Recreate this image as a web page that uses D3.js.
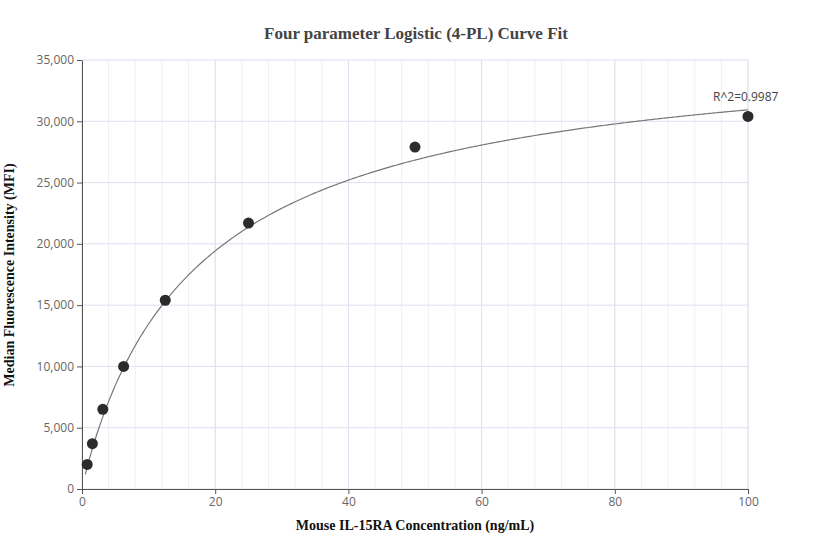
<!DOCTYPE html><html><head><meta charset="utf-8"><script src="https://cdn.jsdelivr.net/npm/d3@7"></script>
<style>body{margin:0;background:#fff}</style></head><body><svg id="c" width="832" height="560"></svg>
<script>
const concentrations=[0.78,1.56,3.125,6.25,12.5,25,50,100];
const mfi=[2000,3700,6500,10000,15400,21700,27900,30400];
const fitParams={A:0,B:0.95,C:18,D:37000};
const xTicks=[0,20,40,60,80,100];
const yTicks=[0,5000,10000,15000,20000,25000,30000,35000];
const rSquared="R^2=0.9987";

const svg=d3.select("#c");
const m={l:82,r:748,t:60,b:489};
const x=d3.scaleLinear().domain([0,100]).range([m.l,m.r]);
const y=d3.scaleLinear().domain([0,35000]).range([m.b,m.t]);
const g=svg.append("g");
g.selectAll(".mv").data(d3.range(0,101,4)).enter().append("line")
 .attr("x1",d=>x(d)).attr("x2",d=>x(d)).attr("y1",m.t).attr("y2",m.b).attr("stroke","#eef0f7");
g.selectAll(".mj").data(xTicks).enter().append("line")
 .attr("x1",d=>x(d)).attr("x2",d=>x(d)).attr("y1",m.t).attr("y2",m.b).attr("stroke","#dde0ee");
g.selectAll(".hy").data(yTicks).enter().append("line")
 .attr("x1",m.l).attr("x2",m.r).attr("y1",d=>y(d)).attr("y2",d=>y(d)).attr("stroke","#dde0ee");
const ax=svg.append("g").attr("transform",`translate(0,${m.b})`).call(d3.axisBottom(x).tickValues(xTicks).tickSize(5).tickSizeOuter(0));
const ay=svg.append("g").attr("transform",`translate(${m.l},0)`).call(d3.axisLeft(y).tickValues(yTicks).tickFormat(d3.format(",")).tickSize(5).tickSizeOuter(0));
[ax,ay].forEach(a=>{a.selectAll("path,line").attr("stroke","#555");a.selectAll("text").attr("fill","#666").style("font","12px 'Open Sans',sans-serif");});
const f=t=>fitParams.A+(fitParams.D-fitParams.A)*Math.pow(t/fitParams.C,fitParams.B)/(1+Math.pow(t/fitParams.C,fitParams.B));
const pts=d3.range(0.5,100.01,0.25).map(t=>[t,f(t)]);
svg.append("path").attr("d",d3.line().x(d=>x(d[0])).y(d=>y(d[1]))(pts)).attr("fill","none").attr("stroke","#777").attr("stroke-width",1.2);
svg.selectAll("circle").data(concentrations).enter().append("circle")
 .attr("cx",d=>x(d)).attr("cy",(d,i)=>y(mfi[i])).attr("r",5.5).attr("fill","#2b2b2b");
svg.append("text").attr("x",x(100)-35).attr("y",y(f(100))-9).attr("fill","#444").style("font","12px 'Open Sans',sans-serif").text(rSquared);
svg.append("text").attr("x",416).attr("y",39).attr("text-anchor","middle").attr("fill","#444").style("font","bold 17px 'Liberation Serif',serif").text("Four parameter Logistic (4-PL) Curve Fit");
svg.append("text").attr("x",415).attr("y",530).attr("text-anchor","middle").attr("fill","#111").style("font","bold 14px 'Liberation Serif',serif").text("Mouse IL-15RA Concentration (ng/mL)");
svg.append("text").attr("transform","translate(14,275) rotate(-90)").attr("text-anchor","middle").attr("fill","#111").style("font","bold 14px 'Liberation Serif',serif").text("Median Fluorescence Intensity (MFI)");
</script></body></html>
